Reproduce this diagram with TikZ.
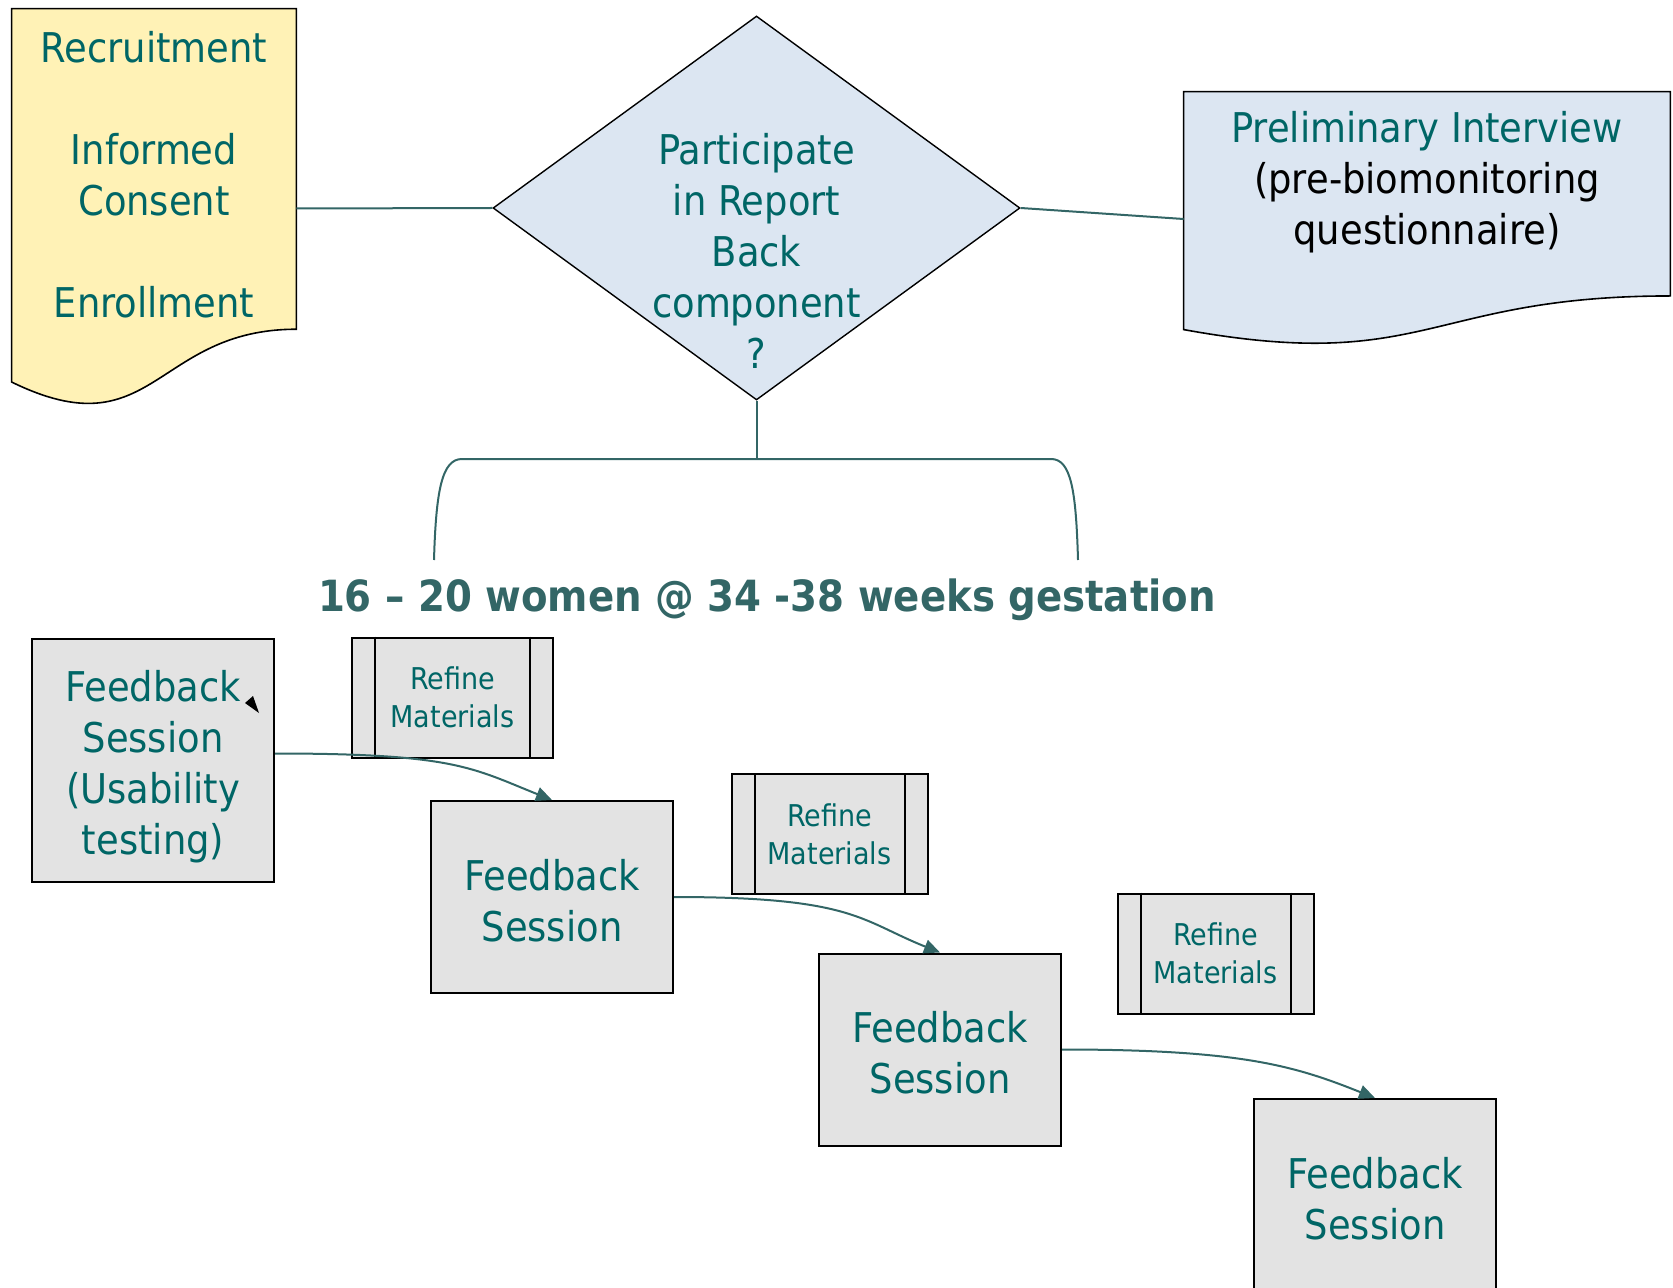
\documentclass[tikz,border=0pt]{standalone}
\usepackage{fontspec}
\setmainfont{DejaVu Sans Condensed}
\usetikzlibrary{shapes.geometric,arrows.meta,calc}

\definecolor{tealtext}{RGB}{0,102,102}
\definecolor{linkteal}{RGB}{51,102,102}
\definecolor{notepad}{RGB}{255,242,182}
\definecolor{askblue}{RGB}{220,230,242}
\definecolor{boxgray}{RGB}{227,227,227}

\newcommand{\bigtxt}{\fontsize{20.5}{25.5}\selectfont}
\newcommand{\smalltxt}{\fontsize{15}{19}\selectfont}

% document outline with a wavy bottom, drawn round a named node
\newcommand{\docwave}[2]{%
  \path[draw=black,line width=0.8pt,fill=#2]
    (#1.north west) -- (#1.north east)
    -- ($(#1.north east)!0.802!(#1.south east)$)
    .. controls ($(#1.north)!0.802!(#1.south)$) and ($(#1.north)!1.108!(#1.south)$)
    .. ($(#1.north west)!0.934!(#1.south west)$) -- cycle;}

\tikzstyle{docbox}=[rectangle,inner sep=0pt]
\tikzstyle{maintxt}=[font=\bigtxt,text=tealtext,align=center,inner sep=0pt]
\tikzstyle{decision}=[diamond,draw=black,fill=askblue,line width=0.7pt,minimum width=263.5pt,minimum height=192pt,inner sep=0pt]
\tikzstyle{session}=[rectangle,draw=black,fill=boxgray,line width=1pt,minimum width=121pt,minimum height=96pt,inner sep=0pt,font=\bigtxt,text=tealtext,align=center]
\tikzstyle{refine}=[rectangle,draw=black,fill=boxgray,line width=1pt,minimum width=98pt,minimum height=60pt,inner sep=0pt,font=\smalltxt,text=tealtext,align=center]
\tikzstyle{link}=[draw=linkteal,line width=1pt]
\tikzstyle{flow}=[draw=linkteal,line width=1pt,-{Triangle[length=8pt,width=7pt]},linkteal]

\begin{document}
\begin{tikzpicture}[x=0.5pt,y=-0.5pt]
     \useasboundingbox (0,0) rectangle (1673,1288);
     % the two document shapes and the question
     \node[docbox,minimum width=142pt,minimum height=199.5pt] (recruit) at (154,208.5) {};
     \docwave{recruit}{notepad}
     \node[maintxt] (recruittxt) at (154,174.5) {Recruitment\\~\\Informed\\Consent\\~\\Enrollment};

     \node[docbox,minimum width=243pt,minimum height=127pt] (prelim) at (1427,219) {};
     \docwave{prelim}{askblue}
     \node[maintxt] (prelimtxt) at (1427,182.5) {Preliminary Interview\\\color{black}(pre-biomonitoring\\\color{black}questionnaire)};

     \node[decision] (ask) at (756.5,208) {};
     \node[maintxt] (asktxt) at (756.5,250.5) {Participate\\in Report\\Back\\component\\?};

     \path[link] (recruit.east) -- (ask.west);
     \path[link] (ask.east) -- (prelim.west);

     % the bracket over the cohort
     \coordinate (top) at (756.5,459);
     \coordinate (lft) at (434,560);
     \coordinate (rgt) at (1078,560);
     \path[link] (ask.south) -- (top);
     \path[link] (lft) .. controls (436,490) and (442,459) .. (462,459)
       -- (1051,459) .. controls (1071,459) and (1076,490) .. (rgt);
     \node[font=\fontsize{21.5}{25}\selectfont\bfseries,text=linkteal,inner sep=0pt] (cohort) at (767,600)
       {16 – 20 women @ 34 -38 weeks gestation};

     % feedback sessions
     \node[session,minimum height=121.5pt] (fb1) at (153,760.5) {\rule{0pt}{22pt}Feedback\\Session\\(Usability\\testing)};
     \foreach \pos/\name in {{(552,897)/fb2},{(940,1049.5)/fb3},{(1375,1195)/fb4}}
     \node[session] (\name) at \pos {\rule{0pt}{19pt}Feedback\\Session};

     \foreach \pos/\name/\bw in {{(452.5,697.5)/rf1/100.5pt},{(829.5,834)/rf2/98pt},{(1215.5,953.5)/rf3/98pt}}{
       \node[refine,minimum width=\bw] (\name) at \pos {Refine\\Materials};
       \draw[line width=1pt] ([xshift=12pt]\name.north west) -- ([xshift=12pt]\name.south west);
       \draw[line width=1pt] ([xshift=-12pt]\name.north east) -- ([xshift=-12pt]\name.south east);
     }

     \foreach \source/\up/\dest in {fb1/3.5pt/fb2, fb2/0pt/fb3, fb3/0pt/fb4}
     \path[flow] ([yshift=\up]\source.east) .. controls +(90pt,0pt) and +(-40pt,16pt) .. (\dest.north);

     \fill[black] (245,703) -- (253,696) -- (259,713) -- cycle;
\end{tikzpicture}
\end{document}
